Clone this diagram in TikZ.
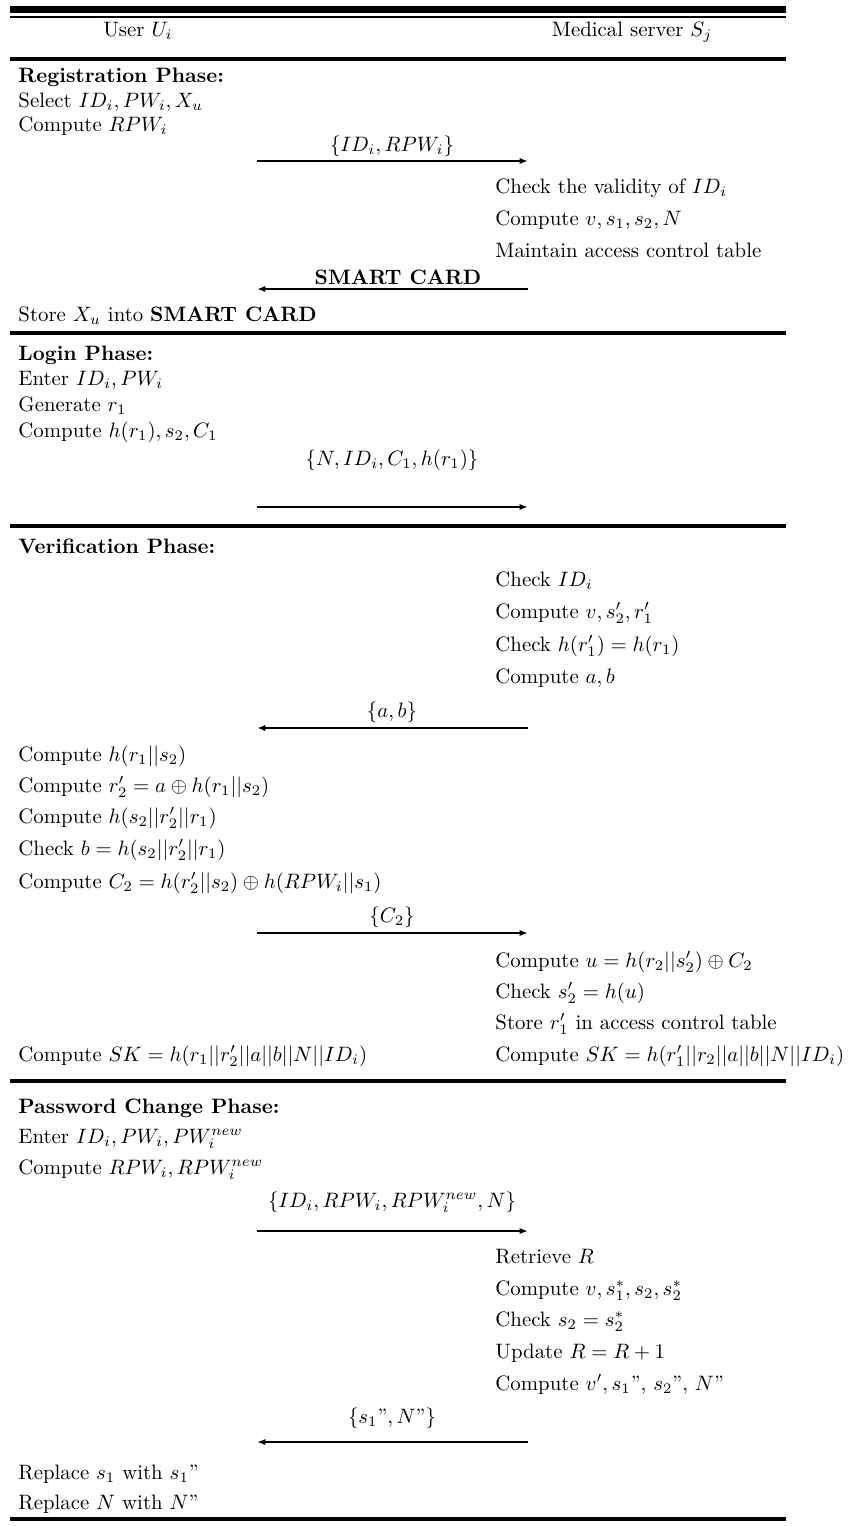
\documentclass[tikz,border=0pt]{standalone}
\usepackage{amsmath}
\usetikzlibrary{arrows.meta}
\begin{document}
\begin{tikzpicture}[x=0.48pt,y=-0.48pt,
  lt/.style={anchor=base west,inner sep=0pt},
  ct/.style={anchor=base,inner sep=0pt},
  msgarrow/.style={line width=0.9pt,-{Latex[length=4pt,width=3pt]}},
  rulethick/.style={line width=3.4pt},
  rulemid/.style={line width=1.5pt},
  rulethin/.style={line width=1.2pt}]
\useasboundingbox (0,0) rectangle (859,1526);

% table rules
\draw[rulethick] (10,9.5) -- (786,9.5);
\draw[rulethin] (10,17) -- (786,17);
\draw[rulemid] (10,59) -- (786,59);
\draw[rulemid] (10,333) -- (786,333);
\draw[rulemid] (10,526) -- (786,526);
\draw[rulemid] (10,1081) -- (786,1081);
\draw[rulemid] (10,1519) -- (786,1519);

% header
\node[ct] (hU) at (138,36) {User $U_i$};
\node[ct] (hS) at (632,36) {Medical server $S_j$};

% Registration
\node[lt] (r0) at (18,82) {\textbf{Registration Phase:}};
\node[lt] (r1) at (18,107) {Select $ID_i, PW_i, X_u$};
\node[lt] (r2) at (18,131) {Compute $RPW_i$};
\node[ct] (m1) at (392,151) {$\{ID_i, RPW_i\}$};
\coordinate (m1a) at (257,161); \coordinate (m1b) at (528,161);
\draw[msgarrow] (m1a) -- (m1b);
\node[lt] (r3) at (495,193) {Check the validity of $ID_i$};
\node[lt] (r4) at (495,225) {Compute $v, s_1, s_2, N$};
\node[lt] (r5) at (495,257) {Maintain access control table};
\node[ct] (m2) at (398,284) {\textbf{SMART CARD}};
\coordinate (m2a) at (528,289); \coordinate (m2b) at (257,289);
\draw[msgarrow] (m2a) -- (m2b);
\node[lt] (r6) at (18,321) {Store $X_u$ into \textbf{SMART CARD}};

% Login
\node[lt] (l0) at (18,360) {\textbf{Login Phase:}};
\node[lt] (l1) at (18,385) {Enter $ID_i, PW_i$};
\node[lt] (l2) at (18,411) {Generate $r_1$};
\node[lt] (l3) at (18,437) {Compute $h(r_1), s_2, C_1$};
\node[ct] (m3) at (392,465) {$\{N, ID_i, C_1, h(r_1)\}$};
\coordinate (m3a) at (257,507); \coordinate (m3b) at (528,507);
\draw[msgarrow] (m3a) -- (m3b);

% Verification
\node[lt] (v0) at (18,553) {\textbf{Verification Phase:}};
\node[lt] (v1) at (495,586) {Check $ID_i$};
\node[lt] (v2) at (495,618) {Compute $v, s'_2, r'_1$};
\node[lt] (v3) at (495,651) {Check $h(r'_1) = h(r_1)$};
\node[lt] (v4) at (495,683) {Compute $a, b$};
\node[ct] (m4) at (392,717) {$\{a, b\}$};
\coordinate (m4a) at (528,728); \coordinate (m4b) at (257,728);
\draw[msgarrow] (m4a) -- (m4b);
\node[lt] (v5) at (18,761) {Compute $h(r_1||s_2)$};
\node[lt] (v6) at (18,792) {Compute $r'_2 = a \oplus h(r_1||s_2)$};
\node[lt] (v7) at (18,823) {Compute $h(s_2||r'_2||r_1)$};
\node[lt] (v8) at (18,855) {Check $b = h(s_2||r'_2||r_1)$};
\node[lt] (v9) at (18,888) {Compute $C_2 = h(r'_2||s_2) \oplus h(RPW_i||s_1)$};
\node[ct] (m5) at (392,922) {$\{C_2\}$};
\coordinate (m5a) at (257,933); \coordinate (m5b) at (528,933);
\draw[msgarrow] (m5a) -- (m5b);
\node[lt] (v10) at (495,967) {Compute $u = h(r_2||s'_2) \oplus C_2$};
\node[lt] (v11) at (495,998) {Check $s'_2 = h(u)$};
\node[lt] (v12) at (495,1029) {Store $r'_1$ in access control table};
\node[lt] (v13) at (18,1061) {Compute $SK = h(r_1||r'_2||a||b||N||ID_i)$};
\node[lt] (v14) at (495,1061) {Compute $SK = h(r'_1||r_2||a||b||N||ID_i)$};

% Password change
\node[lt] (p0) at (18,1113) {\textbf{Password Change Phase:}};
\node[lt] (p1) at (18,1143) {Enter $ID_i, PW_i, PW_i^{new}$};
\node[lt] (p2) at (18,1174) {Compute $RPW_i, RPW_i^{new}$};
\node[ct] (m6) at (392,1207) {$\{ID_i, RPW_i, RPW_i^{new}, N\}$};
\coordinate (m6a) at (257,1231); \coordinate (m6b) at (528,1231);
\draw[msgarrow] (m6a) -- (m6b);
\node[lt] (p3) at (495,1263) {Retrieve $R$};
\node[lt] (p4) at (495,1295) {Compute $v, s^*_1, s_2, s^*_2$};
\node[lt] (p5) at (495,1326) {Check $s_2 = s^*_2$};
\node[lt] (p6) at (495,1358) {Update $R = R + 1$};
\node[lt] (p7) at (495,1390) {Compute $v', s_1$'', $s_2$'', $N$''};
\node[ct] (m7) at (392,1423) {$\{s_1$''$, N$''$\}$};
\coordinate (m7a) at (528,1442); \coordinate (m7b) at (257,1442);
\draw[msgarrow] (m7a) -- (m7b);
\node[lt] (p8) at (18,1479) {Replace $s_1$ with $s_1$''};
\node[lt] (p9) at (18,1509) {Replace $N$ with $N$''};
\end{tikzpicture}
\end{document}
